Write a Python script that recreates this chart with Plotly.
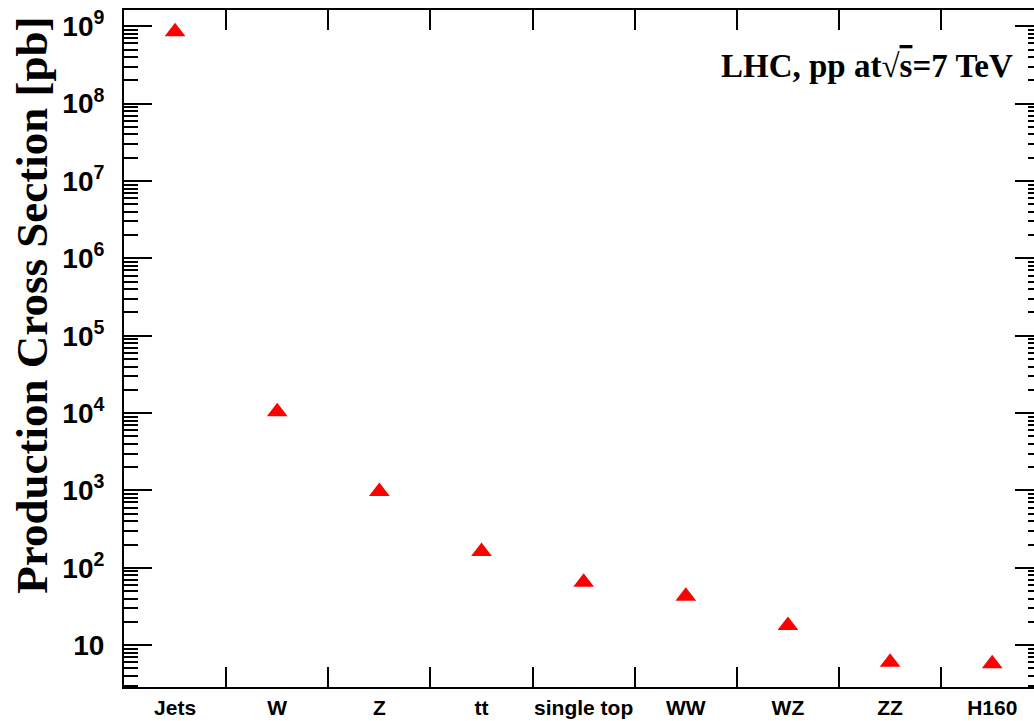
import plotly.graph_objects as go

# ---- data ----
categories = ["Jets", "W", "Z", "tt", "single top", "WW", "WZ", "ZZ", "H160"]
cross_section_pb = [8.5e8, 1.04e4, 968, 163, 65, 43, 18, 6.0, 5.75]

y_tick_vals = [10, 1e2, 1e3, 1e4, 1e5, 1e6, 1e7, 1e8, 1e9]
y_tick_text = ["10", "10<sup>2</sup>", "10<sup>3</sup>", "10<sup>4</sup>", "10<sup>5</sup>",
               "10<sup>6</sup>", "10<sup>7</sup>", "10<sup>8</sup>", "10<sup>9</sup>"]
y_minor_vals = [m * 10 ** k for k in range(0, 10) for m in range(2, 10)]

y_title = "Production Cross Section [pb]"
label_text = "LHC, pp at√<span style='text-decoration:overline'>s</span>=7 TeV"

# ---- layout geometry ----
W, H = 1034, 721
ML, MT, MB, MR = 124, 10, 34, 0
y_range = [0.459, 9.211]
x_range = [-0.5, 8.409]

fig = go.Figure()
fig.add_trace(go.Scatter(
    x=categories, y=cross_section_pb, mode="markers",
    marker=dict(symbol="triangle-up", size=18, color="#ff0000", line=dict(width=0)),
    showlegend=False, hoverinfo="x+y",
))
# invisible copy so that the right-hand tick axis is drawn
fig.add_trace(go.Scatter(
    x=categories, y=cross_section_pb, mode="markers", yaxis="y2",
    marker=dict(opacity=0), showlegend=False, hoverinfo="skip",
))

axis_font = dict(family="Liberation Sans", color="black", weight="bold")

fig.update_layout(
    width=W, height=H, autosize=False,
    margin=dict(l=ML, r=MR, t=MT, b=MB, pad=0, autoexpand=False),
    paper_bgcolor="white", plot_bgcolor="white",
    xaxis=dict(
        type="category", range=x_range, tickson="boundaries", automargin=False,
        tickangle=0,
        ticks="inside", ticklen=20, tickwidth=2, tickcolor="black",
        showline=True, linewidth=2, linecolor="black", mirror="ticks",
        showgrid=False, zeroline=False,
        tickfont=dict(size=21, **axis_font), ticklabelstandoff=1,
    ),
    yaxis=dict(
        type="log", range=y_range, automargin=False,
        tickmode="array", tickvals=y_tick_vals, ticktext=y_tick_text,
        ticks="inside", ticklen=28, tickwidth=2, tickcolor="black",
        minor=dict(tickmode="array", tickvals=y_minor_vals, ticks="inside",
                   ticklen=14, tickwidth=2, tickcolor="black", showgrid=False),
        showline=True, linewidth=2, linecolor="black", mirror=False,
        showgrid=False, zeroline=False,
        tickfont=dict(size=28, **axis_font), ticklabelstandoff=12,
    ),
    yaxis2=dict(
        type="log", range=y_range, overlaying="y", side="right", automargin=False,
        tickmode="array", tickvals=y_tick_vals,
        ticks="inside", ticklen=19, tickwidth=2, tickcolor="black",
        minor=dict(tickmode="array", tickvals=y_minor_vals, ticks="inside",
                   ticklen=6, tickwidth=2, tickcolor="black", showgrid=False),
        showline=False, showgrid=False, zeroline=False, showticklabels=False,
    ),
    annotations=[
        dict(text=y_title, textangle=-90, xref="paper", yref="paper",
             x=-0.1006, y=0.564, xanchor="center", yanchor="middle", showarrow=False,
             font=dict(family="Liberation Serif", size=45, color="black", weight="bold")),
        dict(text=label_text, xref="paper", yref="paper",
             x=0.979, y=0.917, xanchor="right", yanchor="middle", showarrow=False,
             font=dict(family="Liberation Serif", size=33, color="black", weight="bold")),
    ],
)

fig.write_html("out.html")
